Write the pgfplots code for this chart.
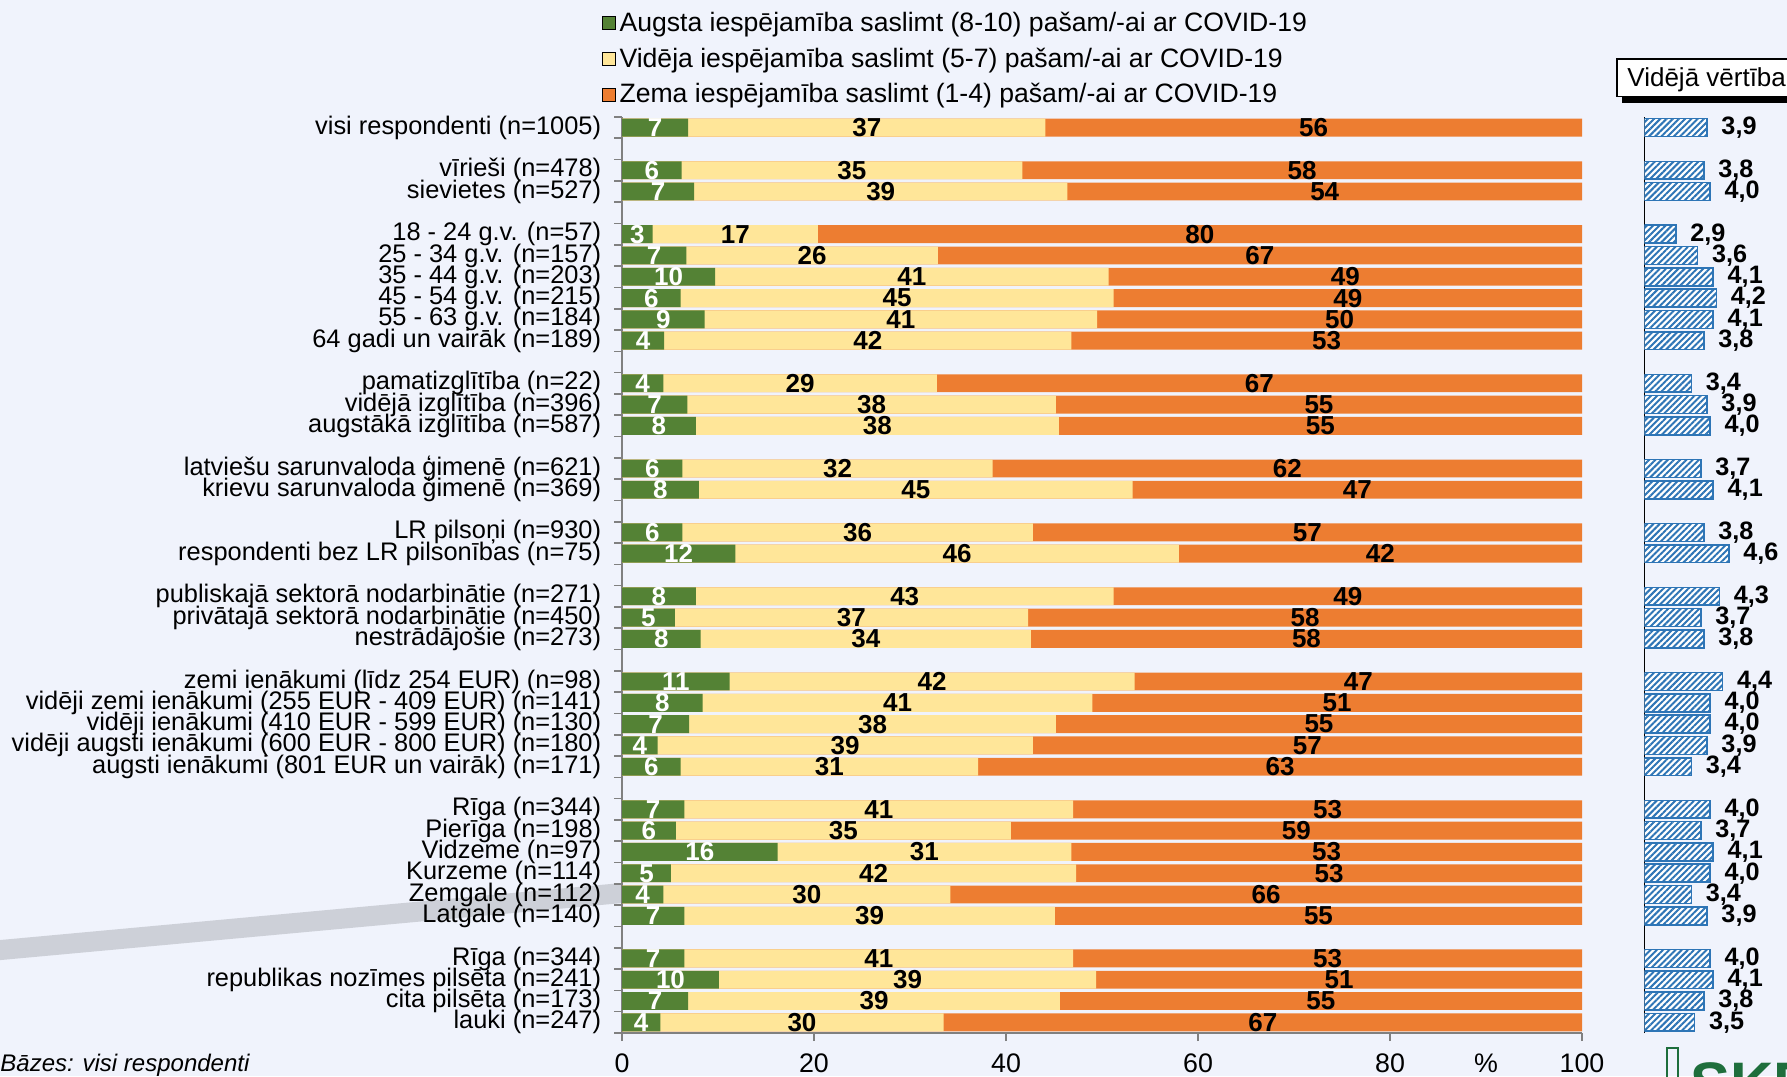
\documentclass[border=0pt]{standalone}
\usepackage{pgfplots}
\pgfplotsset{compat=1.18}
\usepackage{pgfplotstable}
\usepackage{fontspec}
\setmainfont{Liberation Sans}
\usetikzlibrary{patterns.meta}
\definecolor{bg}{RGB}{240,243,252}
\definecolor{cgreen}{RGB}{84,130,53}
\definecolor{cyellow}{RGB}{255,230,153}
\definecolor{corange}{RGB}{237,125,49}
\definecolor{cblue}{RGB}{46,117,182}
\definecolor{band}{RGB}{205,208,216}
\definecolor{logogreen}{RGB}{30,110,60}
\definecolor{axgray}{RGB}{128,128,128}

\pgfplotstableread[col sep=semicolon]{
idx;g;y;o;gl;yl;ol;m;ml;lab
43;6.9;37.2;55.9;7;37;56;3.9;3,9;visi respondenti (n=1005)
41;6.2;35.5;58.3;6;35;58;3.8;3,8;vīrieši (n=478)
40;7.5;38.9;53.6;7;39;54;4.0;4,0;sievietes (n=527)
38;3.2;17.2;79.6;3;17;80;2.9;2,9;18 - 24 g.v. (n=57)
37;6.7;26.2;67.1;7;26;67;3.6;3,6;25 - 34 g.v. (n=157)
36;9.7;41.0;49.3;10;41;49;4.1;4,1;35 - 44 g.v. (n=203)
35;6.1;45.1;48.8;6;45;49;4.2;4,2;45 - 54 g.v. (n=215)
34;8.6;40.9;50.5;9;41;50;4.1;4,1;55 - 63 g.v. (n=184)
33;4.4;42.4;53.2;4;42;53;3.8;3,8;64 gadi un vairāk (n=189)
31;4.3;28.5;67.2;4;29;67;3.4;3,4;pamatizglītība (n=22)
30;6.8;38.4;54.8;7;38;55;3.9;3,9;vidējā izglītība (n=396)
29;7.7;37.8;54.5;8;38;55;4.0;4,0;augstākā izglītība (n=587)
27;6.3;32.3;61.4;6;32;62;3.7;3,7;latviešu sarunvaloda ģimenē (n=621)
26;8.0;45.2;46.8;8;45;47;4.1;4,1;krievu sarunvaloda ģimenē (n=369)
24;6.3;36.5;57.2;6;36;57;3.8;3,8;LR pilsoņi (n=930)
23;11.8;46.2;42.0;12;46;42;4.6;4,6;respondenti bez LR pilsonības (n=75)
21;7.7;43.5;48.8;8;43;49;4.3;4,3;publiskajā sektorā nodarbinātie (n=271)
20;5.5;36.8;57.7;5;37;58;3.7;3,7;privātajā sektorā nodarbinātie (n=450)
19;8.2;34.4;57.4;8;34;58;3.8;3,8;nestrādājošie (n=273)
17;11.2;42.2;46.6;11;42;47;4.4;4,4;zemi ienākumi (līdz 254 EUR) (n=98)
16;8.4;40.6;51.0;8;41;51;4.0;4,0;vidēji zemi ienākumi (255 EUR - 409 EUR) (n=141)
15;7.0;38.2;54.8;7;38;55;4.0;4,0;vidēji ienākumi (410 EUR - 599 EUR) (n=130)
14;3.7;39.1;57.2;4;39;57;3.9;3,9;vidēji augsti ienākumi (600 EUR - 800 EUR) (n=180)
13;6.1;31.0;62.9;6;31;63;3.4;3,4;augsti ienākumi (801 EUR un vairāk) (n=171)
11;6.5;40.5;53.0;7;41;53;4.0;4,0;Rīga (n=344)
10;5.6;34.9;59.5;6;35;59;3.7;3,7;Pierīga (n=198)
9;16.2;30.6;53.2;16;31;53;4.1;4,1;Vidzeme (n=97)
8;5.1;42.2;52.7;5;42;53;4.0;4,0;Kurzeme (n=114)
7;4.3;29.9;65.8;4;30;66;3.4;3,4;Zemgale (n=112)
6;6.5;38.6;54.9;7;39;55;3.9;3,9;Latgale (n=140)
4;6.5;40.5;53.0;7;41;53;4.0;4,0;Rīga (n=344)
3;10.1;39.3;50.6;10;39;51;4.1;4,1;republikas nozīmes pilsēta (n=241)
2;6.9;38.7;54.4;7;39;55;3.8;3,8;cita pilsēta (n=173)
1;4.0;29.5;66.5;4;30;67;3.5;3,5;lauki (n=247)
}\data

\begin{document}
\begin{tikzpicture}
\fill[bg] (0pt,0pt) rectangle (893.5pt,538pt);
\useasboundingbox (0pt,0pt) rectangle (893.5pt,538pt);
\draw[band, line width=10pt] (-5pt,62.5pt) -- (311pt,91.5pt);

\begin{axis}[
  at={(311pt,21.5pt)}, anchor=south west,
  scale only axis, width=480pt, height=458pt,
  xmin=0, xmax=100, ymin=0.5, ymax=43.5,
  axis x line*=bottom, axis y line*=left,
  axis line style={draw=axgray, line width=0.8pt},
  tick align=outside, major tick length=4pt, minor tick length=4pt,
  tick style={draw=axgray, line width=0.8pt},
  xtick={0,20,40,60,80,100},
  extra x ticks={90}, extra x tick labels={\%},
  extra x tick style={tick style={draw=none}},
  /pgf/number format/assume math mode=true,
  x tick label style={font=\fontsize{13.4}{15}\selectfont, yshift=-3pt},
  ytick=data,
  yticklabels from table={\data}{lab},
  y tick label style={font=\fontsize{12.7}{14}\selectfont, xshift=-2.9pt},
  major y tick style={draw=none},
  minor ytick={0.5,1.5,...,43.5},
  legend style={at={(axis description cs:-0.028,1.1238)}, anchor=north west,
    draw=none, fill=none, font=\fontsize{13.3}{15}\selectfont, row sep=2.65pt},
  legend cell align=left,
  legend image code/.code={\fill[#1] (0pt,-3.3pt) rectangle (6.6pt,3.3pt);},
  clip=false,
]
\addlegendimage{fill=cgreen}
\addlegendentry{Augsta iespējamība saslimt (8-10) pašam/-ai ar COVID-19}
\addlegendimage{fill=cyellow}
\addlegendentry{Vidēja iespējamība saslimt (5-7) pašam/-ai ar COVID-19}
\addlegendimage{fill=corange}
\addlegendentry{Zema iespējamība saslimt (1-4) pašam/-ai ar COVID-19}

\addplot[xbar, bar width=0.84, bar shift=0pt, draw=none, fill=corange, forget plot]
  table[x expr=\thisrow{g}+\thisrow{y}+\thisrow{o}, y=idx]{\data};
\addplot[xbar, bar width=0.84, bar shift=0pt, draw=none, fill=cyellow, forget plot]
  table[x expr=\thisrow{g}+\thisrow{y}, y=idx]{\data};
\addplot[xbar, bar width=0.84, bar shift=0pt, draw=none, fill=cgreen, forget plot]
  table[x=g, y=idx]{\data};

\addplot[draw=none, mark=none, forget plot, nodes near coords, point meta=explicit symbolic,
  nodes near coords style={anchor=center, text=white, font=\bfseries\fontsize{13}{14}\selectfont, inner sep=0pt}]
  table[x expr=\thisrow{g}/2, y=idx, meta=gl]{\data};
\addplot[draw=none, mark=none, forget plot, nodes near coords, point meta=explicit symbolic,
  nodes near coords style={anchor=center, text=black, font=\bfseries\fontsize{13}{14}\selectfont, inner sep=0pt}]
  table[x expr=\thisrow{g}+\thisrow{y}/2, y=idx, meta=yl]{\data};
\addplot[draw=none, mark=none, forget plot, nodes near coords, point meta=explicit symbolic,
  nodes near coords style={anchor=center, text=black, font=\bfseries\fontsize{13}{14}\selectfont, inner sep=0pt}]
  table[x expr=\thisrow{g}+\thisrow{y}+\thisrow{o}/2, y=idx, meta=ol]{\data};
\end{axis}

\begin{axis}[
  at={(822.3pt,21.5pt)}, anchor=south west,
  scale only axis, width=71.76pt, height=458pt,
  xmin=1.9, xmax=6.5, ymin=0.5, ymax=43.5,
  axis y line*=left, axis x line=none,
  axis line style={draw=black, line width=0.8pt},
  ytick=\empty, minor ytick={0.5,1.5,...,43.5},
  tick align=outside, minor tick length=2pt,
  tick style={draw=black, line width=0.6pt},
  clip mode=individual,
]
\addplot[xbar, bar width=0.84, bar shift=0pt, draw=cblue, line width=0.8pt, fill=white,
  postaction={pattern={Lines[angle=45,distance=2.2pt,line width=1pt]}, pattern color=cblue},
  nodes near coords, point meta=explicit symbolic,
  nodes near coords style={anchor=west, xshift=3.5pt, text=black, font=\bfseries\fontsize{12.6}{14}\selectfont}]
  table[x=m, y=idx, meta=ml]{\data};
\end{axis}

\fill[black] (811pt,486.6pt) rectangle (905pt,505.5pt);
\filldraw[fill=white, draw=black, line width=0.6pt] (808.5pt,489.6pt) rectangle (905pt,508.5pt);
\node[anchor=base west, inner sep=0pt, font=\fontsize{13}{15}\selectfont] at (813.5pt,494.6pt) {Vidējā vērtība};

\node[anchor=west, inner sep=0pt, font=\itshape\fontsize{12}{14}\selectfont] at (0pt,5.5pt) {Bāzes: visi respondenti};

\draw[logogreen, line width=0.8pt] (833.5pt,-5pt) rectangle (839pt,14pt);
\node[anchor=north west, inner sep=0pt, text=logogreen, font=\bfseries\fontsize{30}{30}\selectfont] at (845pt,7pt) {SKDS};
\end{tikzpicture}
\end{document}
